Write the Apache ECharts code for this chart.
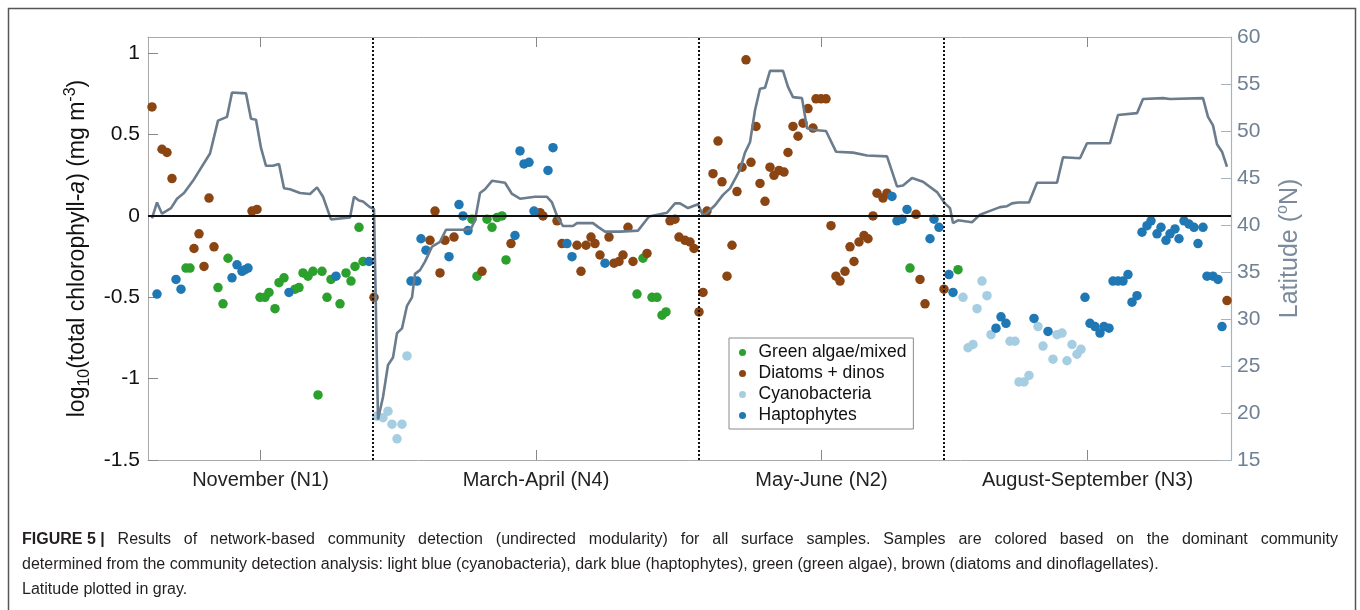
<!DOCTYPE html>
<html>
<head>
<meta charset="utf-8">
<script src="https://cdn.jsdelivr.net/npm/echarts@6/dist/echarts.min.js"></script>
<style>
html,body{margin:0;padding:0;background:#fff;}
#c{width:1360px;height:610px;}
</style>
</head>
<body>
<div id="c"></div>
<script>
// ---- data (x = sample position along the cruise track) ----
const sectionNames = ['November (N1)', 'March-April (N4)', 'May-June (N2)', 'August-September (N3)'];
const sectionBounds = [0, 45.0, 110.2, 159.2, 216.6];
const leftTicks = [-1.5, -1, -0.5, 0, 0.5, 1];

const greenPts = [[7.6,-0.32],[8.4,-0.32],[14.0,-0.44],[15.0,-0.54],[16.0,-0.26],[22.4,-0.50],[23.4,-0.50],[24.2,-0.47],[25.4,-0.57],[26.2,-0.41],[27.2,-0.38],[29.4,-0.45],[30.2,-0.44],[31.0,-0.35],[32.0,-0.37],[33.0,-0.34],[34.0,-1.10],[34.8,-0.34],[35.8,-0.50],[36.6,-0.39],[38.4,-0.54],[39.6,-0.35],[40.6,-0.40],[41.4,-0.31],[42.2,-0.07],[43.0,-0.28],
  [64.8,-0.02],[65.8,-0.37],[67.8,-0.02],[68.8,-0.07],[69.8,-0.01],[70.8,0.00],[71.6,-0.27],[97.8,-0.48],[99.0,-0.26],[100.8,-0.50],[101.8,-0.50],[102.8,-0.61],[103.6,-0.59],
  [152.4,-0.32],[162.0,-0.33]];

const brownPts = [[0.8,0.67],[2.8,0.41],[3.8,0.39],[4.8,0.23],[9.2,-0.20],[10.2,-0.11],[11.2,-0.31],[12.2,0.11],[13.2,-0.19],[20.8,0.03],[21.8,0.04],[45.2,-0.50],
  [56.4,-0.15],[57.4,0.03],[58.4,-0.35],[59.4,-0.15],[61.2,-0.13],[66.8,-0.34],[72.6,-0.17],[78.4,0.02],[79.0,0.00],[81.8,-0.03],[82.8,-0.17],[85.8,-0.18],[86.6,-0.34],[87.6,-0.18],[88.6,-0.13],[89.4,-0.17],[90.4,-0.24],[92.2,-0.13],[93.2,-0.29],[94.2,-0.28],[95.0,-0.24],[96.0,-0.07],[97.0,-0.28],[99.8,-0.23],[104.4,-0.03],[105.4,-0.02],[106.2,-0.13],[107.4,-0.15],[108.4,-0.16],[109.2,-0.20],[110.2,-0.59],[111.0,-0.47],
  [111.8,0.03],[113.0,0.26],[114.0,0.46],[114.8,0.21],[115.8,-0.37],[116.8,-0.18],[117.8,0.15],[118.8,0.30],[119.6,0.96],[120.6,0.33],[121.6,0.55],[122.4,0.20],[123.4,0.09],[124.4,0.30],[125.2,0.25],[126.2,0.28],[127.2,0.27],[128.0,0.39],[129.0,0.55],[130.0,0.49],[131.0,0.57],[132.0,0.66],[133.0,0.54],[133.6,0.72],[134.6,0.72],[135.6,0.72],[136.6,-0.06],[137.6,-0.37],[138.4,-0.40],[139.4,-0.34],[140.4,-0.19],[141.2,-0.28],[142.2,-0.16],[143.2,-0.12],[144.0,-0.14],[145.0,0.00],[145.8,0.14],[147.0,0.11],[147.8,0.14],[153.6,0.01],[154.4,-0.39],[155.4,-0.54],[159.2,-0.45],
  [215.8,-0.52]];

const cyanoPts = [[45.8,-1.23],[47.0,-1.24],[48.0,-1.20],[48.8,-1.28],[49.8,-1.37],[50.8,-1.28],[51.8,-0.86],
  [163.0,-0.50],[164.0,-0.81],[165.0,-0.79],[165.8,-0.57],[166.8,-0.40],[167.8,-0.49],[168.6,-0.73],[172.4,-0.77],[173.4,-0.77],[174.2,-1.02],[175.2,-1.02],[176.2,-0.98],[178.0,-0.68],[179.0,-0.80],[181.0,-0.88],[181.8,-0.73],[182.8,-0.72],[183.8,-0.89],[184.8,-0.79],[185.8,-0.85],[186.6,-0.82]];

const haptoPts = [[1.8,-0.48],[5.6,-0.39],[6.6,-0.45],[16.8,-0.38],[17.8,-0.30],[18.8,-0.34],[19.4,-0.33],[20.0,-0.32],[28.2,-0.47],[37.6,-0.37],[44.2,-0.28],
  [52.6,-0.40],[53.8,-0.40],[54.6,-0.14],[55.6,-0.21],[60.2,-0.25],[62.2,0.07],[63.0,0.00],[64.0,-0.09],[73.4,-0.12],[74.4,0.40],[75.2,0.32],[76.2,0.33],[77.2,0.03],[80.0,0.28],[81.0,0.42],[83.8,-0.17],[84.8,-0.25],[91.4,-0.29],
  [148.8,0.12],[149.8,-0.03],[150.8,-0.02],[151.8,0.04],[156.4,-0.14],[157.2,-0.02],[158.2,-0.07],
  [160.2,-0.36],[161.0,-0.47],[169.6,-0.69],[170.6,-0.62],[171.6,-0.66],[177.2,-0.63],[180.0,-0.71],[187.4,-0.50],[188.4,-0.66],[189.4,-0.68],[190.4,-0.72],[191.2,-0.68],[192.2,-0.69],[193.0,-0.40],[194.0,-0.40],[195.0,-0.40],[196.0,-0.36],[196.8,-0.53],[197.8,-0.49],[198.8,-0.10],[199.8,-0.06],[200.6,-0.03],[201.8,-0.11],[202.6,-0.07],[203.6,-0.15],[204.4,-0.11],[205.4,-0.08],[206.2,-0.14],[207.2,-0.03],[208.2,-0.05],[209.2,-0.07],[210.0,-0.17],[211.0,-0.07],[211.8,-0.37],[213.0,-0.37],[214.0,-0.39],[214.8,-0.68]];

const latitudeTrack = [[0.8,40.7],[1.8,42.4],[2.8,41.2],[4.6,41.8],[5.8,42.8],[7.2,43.4],[9.0,44.7],[12.4,47.6],[14.0,51.1],[15.8,51.5],[16.8,54.1],[19.6,54.0],[20.6,51.3],[21.6,51.2],[22.6,48.2],[23.6,46.3],[25.0,46.3],[26.2,46.5],[27.2,43.9],[28.4,43.8],[30.4,43.4],[32.4,43.3],[33.8,44.0],[35.0,43.0],[36.6,40.6],[40.4,40.8],[41.2,43.0],[42.2,42.6],[43.0,42.5],[44.4,41.9],[45.2,41.7],
  [46.0,19.3],[47.0,21.7],[48.0,25.1],[49.0,25.9],[49.8,28.5],[50.8,29.0],[51.8,31.4],[52.8,32.3],[53.4,34.8],[54.4,35.2],[55.4,36.1],[56.8,37.7],[58.4,38.2],[59.6,39.5],[63.0,39.5],[64.6,39.6],[65.4,40.5],[66.4,43.4],[67.4,43.8],[68.8,44.7],[71.4,44.5],[72.8,43.3],[74.4,42.8],[77.4,43.0],[79.8,43.0],[80.8,42.4],[82.0,40.7],[83.0,39.9],[85.0,39.9],[85.8,40.2],[89.0,40.2],[90.0,39.8],[91.4,39.3],[94.4,39.3],[98.0,39.4],[100.2,40.9],[103.8,41.3],[105.4,42.3],[106.4,42.3],[108.0,41.8],[110.0,42.2],
  [111.0,41.0],[111.8,41.3],[113.4,42.1],[115.0,43.2],[116.4,43.9],[118.4,45.9],[119.4,47.7],[120.4,48.8],[121.4,52.2],[122.4,54.5],[123.4,54.6],[124.4,56.4],[127.0,56.4],[128.0,54.7],[129.0,53.6],[130.8,53.5],[131.8,50.3],[133.2,50.1],[135.6,50.0],[137.6,47.8],[141.0,47.7],[143.8,47.4],[147.8,47.3],[149.8,44.1],[151.0,44.2],[152.8,45.0],[155.0,44.6],[157.8,43.5],[159.4,42.3],
  [160.4,41.8],[161.0,40.2],[162.0,40.5],[164.8,40.3],[166.4,41.1],[168.4,41.5],[170.4,41.9],[171.8,42.0],[172.8,42.3],[174.0,42.4],[176.2,42.4],[177.8,44.5],[181.8,44.5],[183.0,47.2],[186.4,47.1],[187.8,48.7],[192.4,48.7],[194.0,51.7],[197.8,51.9],[199.0,53.4],[203.0,53.5],[204.4,53.4],[211.0,53.5],[212.0,51.5],[213.0,50.6],[213.8,48.6],[214.8,47.8],[215.8,46.2]];

const captionLead = 'FIGURE 5 |';
const captionLines = [
  'Results of network-based community detection (undirected modularity) for all surface samples. Samples are colored based on the dominant community',
  'determined from the community detection analysis: light blue (cyanobacteria), dark blue (haptophytes), green (green algae), brown (diatoms and dinoflagellates).',
  'Latitude plotted in gray.'
];

// ---- derived ----
const sectionCenters = [];
for (let i = 0; i < sectionNames.length; i++) sectionCenters.push((sectionBounds[i] + sectionBounds[i + 1]) / 2);
const xMax = sectionBounds[sectionBounds.length - 1];
const dividers = sectionBounds.slice(1, -1);

const FONT = 'Liberation Sans, Arial, Helvetica, sans-serif';
const COL = {green: '#2ca02c', brown: '#8b4513', cyano: '#a6cee3', hapto: '#1f78b4', lat: '#6b7c8d'};
const frameGray = '#a9a9a9';
const latGray = '#aab3bd';

function secName(v) {
  let best = 0, d = 1e9;
  sectionCenters.forEach((c, i) => { if (Math.abs(c - v) < d) { d = Math.abs(c - v); best = i; } });
  return sectionNames[best];
}

// justified first caption line (the reference paragraph is justified)
const CAP_SIZE = 16;
const capFont = CAP_SIZE + 'px ' + FONT;
const capBold = 'bold ' + CAP_SIZE + 'px ' + FONT;
const mctx = document.createElement('canvas').getContext('2d');
function tw(font, t) { mctx.font = font; return mctx.measureText(t).width; }
const words1 = captionLines[0].split(' ');
const spaceW = tw(capFont, ' ');
const natural = tw(capBold, captionLead) + words1.reduce((s, w) => s + tw(capFont, w), 0);
const nSpaces = words1.length;
const targetW = 1316;
const spW = Math.max(spaceW, (targetW - natural) / nSpaces);
const line1Rich = '{b|' + captionLead + '}' + words1.map(w => '{sp| }{r|' + w + '}').join('');

const chart = echarts.init(document.getElementById('c'), null, {renderer: 'canvas'});

function scatter(name, data, color) {
  return {
    name: name, type: 'scatter', data: data, xAxisIndex: 0, yAxisIndex: 0,
    symbol: 'circle', symbolSize: 9.5, itemStyle: {color: color, opacity: 1},
    z: 3, silent: true
  };
}

const option = {
  animation: false,
  backgroundColor: '#fff',
  grid: {left: 148, top: 37, width: 1083, height: 423, containLabel: false},
  xAxis: [{
    type: 'value', min: 0, max: xMax, position: 'bottom',
    axisLine: {show: true, onZero: false, lineStyle: {color: frameGray, width: 1}},
    axisTick: {show: true, inside: true, length: 10, customValues: sectionCenters, lineStyle: {color: '#888'}},
    axisLabel: {show: true, customValues: sectionCenters, formatter: secName, margin: 10, fontSize: 20, color: '#222', fontFamily: FONT},
    splitLine: {show: false}
  }, {
    type: 'value', min: 0, max: xMax, position: 'top',
    axisLine: {show: true, onZero: false, lineStyle: {color: frameGray, width: 1}},
    axisTick: {show: true, inside: true, length: 10, customValues: sectionCenters, lineStyle: {color: '#888'}},
    axisLabel: {show: false},
    splitLine: {show: false}
  }],
  yAxis: [{
    type: 'value', min: -1.5, max: 1.1, interval: 0.5, position: 'left',
    axisLine: {show: true, onZero: false, lineStyle: {color: frameGray, width: 1}},
    axisTick: {show: true, inside: true, length: 10, customValues: leftTicks, lineStyle: {color: '#888'}},
    axisLabel: {customValues: leftTicks, margin: 8, fontSize: 21, color: '#111', fontFamily: FONT},
    splitLine: {show: false},
    name: '{n|log}{s|10}{n|(total chlorophyll-}{i|a}{n|) (mg m}{p|-3}{n|)}',
    nameLocation: 'middle', nameRotate: 90, nameGap: 42,
    nameTextStyle: {
      fontFamily: FONT, fontSize: 23, color: '#111',
      rich: {
        n: {fontFamily: FONT, fontSize: 23, color: '#111', lineHeight: 30, verticalAlign: 'middle'},
        i: {fontFamily: FONT, fontSize: 23, color: '#111', fontStyle: 'italic', lineHeight: 30, verticalAlign: 'middle'},
        s: {fontFamily: FONT, fontSize: 16, color: '#111', lineHeight: 30, verticalAlign: 'bottom'},
        p: {fontFamily: FONT, fontSize: 16, color: '#111', lineHeight: 30, verticalAlign: 'top'}
      }
    }
  }, {
    type: 'value', min: 15, max: 60, interval: 5, position: 'right',
    axisLine: {show: true, onZero: false, lineStyle: {color: latGray, width: 1.2}},
    axisTick: {show: true, inside: true, length: 10, lineStyle: {color: latGray}},
    axisLabel: {margin: 6, fontSize: 21, color: '#6f8193', fontFamily: FONT},
    splitLine: {show: false},
    name: '{n|Latitude (}{p|o}{n|N)}',
    nameLocation: 'middle', nameRotate: 90, nameGap: 44,
    nameTextStyle: {
      fontFamily: FONT, fontSize: 25, color: '#7b8b9b',
      rich: {
        n: {fontFamily: FONT, fontSize: 25, color: '#7b8b9b', lineHeight: 30, verticalAlign: 'middle'},
        p: {fontFamily: FONT, fontSize: 16, color: '#7b8b9b', lineHeight: 30, verticalAlign: 'top'}
      }
    }
  }],
  legend: {
    show: true, orient: 'vertical', left: 729, top: 338,
    data: ['Green algae/mixed', 'Diatoms + dinos', 'Cyanobacteria', 'Haptophytes'],
    icon: 'circle', itemWidth: 22, itemHeight: 7, itemGap: 0,
    padding: [4, 7, 3, 10],
    borderColor: '#8a8a8a', borderWidth: 1, backgroundColor: '#fff',
    textStyle: {fontSize: 17.5, color: '#111', fontFamily: FONT, lineHeight: 21},
    selectedMode: false
  },
  series: [
    scatter('Green algae/mixed', greenPts, COL.green),
    scatter('Diatoms + dinos', brownPts, COL.brown),
    scatter('Cyanobacteria', cyanoPts, COL.cyano),
    scatter('Haptophytes', haptoPts, COL.hapto),
    {
      name: 'zero', type: 'line', data: [], xAxisIndex: 0, yAxisIndex: 0, silent: true,
      markLine: {
        silent: true, symbol: ['none', 'none'], label: {show: false},
        lineStyle: {color: '#111', width: 2, type: 'solid'},
        data: [{yAxis: 0}]
      },
      z: 2
    },
    {
      name: 'dividers', type: 'line', data: [], xAxisIndex: 0, yAxisIndex: 0, silent: true,
      markLine: {
        silent: true, symbol: ['none', 'none'], label: {show: false},
        lineStyle: {color: '#111', width: 2, type: [2, 2]},
        data: dividers.map(v => ({xAxis: v}))
      },
      z: 2
    },
    {
      name: 'Latitude', type: 'line', data: latitudeTrack, xAxisIndex: 0, yAxisIndex: 1,
      showSymbol: false, symbol: 'none', smooth: false, silent: true,
      lineStyle: {color: COL.lat, width: 2.6}, z: 4
    }
  ],
  graphic: [
    {type: 'rect', silent: true, z: -10, shape: {x: 8.5, y: 8.5, width: 1347, height: 640},
     style: {fill: 'none', stroke: '#555', lineWidth: 1.5}},
    {type: 'text', silent: true, left: 22, top: 532,
     style: {text: line1Rich, font: capFont, fill: '#231f20',
             rich: {
               b: {fontWeight: 'bold', fontSize: CAP_SIZE, fontFamily: FONT, fill: '#231f20'},
               r: {fontSize: CAP_SIZE, fontFamily: FONT, fill: '#231f20'},
               sp: {fontSize: CAP_SIZE, fontFamily: FONT, fill: '#231f20', width: spW}
             }}},
    {type: 'text', silent: true, left: 22, top: 557,
     style: {text: captionLines[1], font: capFont, fill: '#231f20'}},
    {type: 'text', silent: true, left: 22, top: 582,
     style: {text: captionLines[2], font: capFont, fill: '#231f20'}}
  ]
};
chart.setOption(option);
</script>
</body>
</html>
